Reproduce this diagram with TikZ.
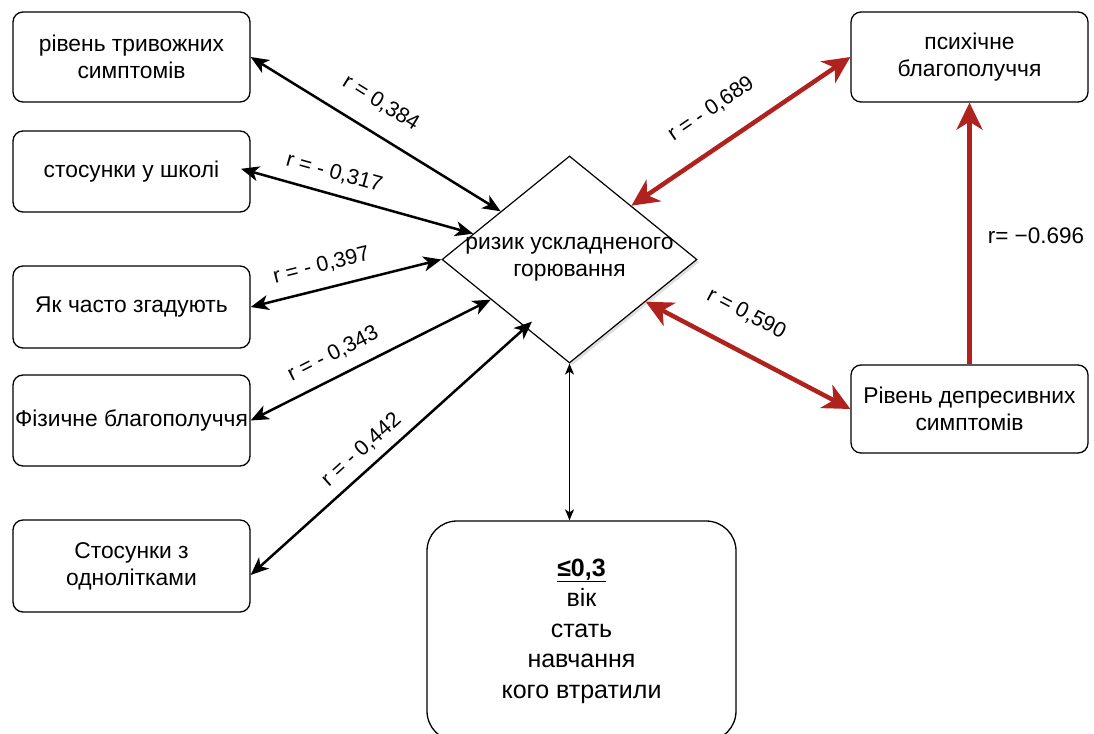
\documentclass[tikz,border=0pt]{standalone}
\usepackage{fontspec}
\setmainfont{Liberation Sans}
\usepackage{tikz}
\usetikzlibrary{
  arrows.meta,%
  % diamond node
  shapes.geometric,%
  shadows
}
\definecolor{darkred}{RGB}{176,34,30}
\tikzset{>={Stealth[length=18pt, width=15pt, inset=5pt]}}
\tikzset{font=\fontsize{22.8}{27}\selectfont}
\tikzset{box/.style={draw, rounded corners=10pt, line width=1.3pt, fill=white,
    minimum width=237pt, align=center, inner sep=0pt},
  riskbox/.style={draw, diamond, line width=1.2pt, fill=white, inner sep=0pt,
    drop shadow={shadow xshift=2.5pt, shadow yshift=-2.5pt, opacity=0.25}},
  link/.style={line width=2.5pt},
  redlink/.style={line width=4.5pt, draw=darkred,
    >={Stealth[length=27pt, width=26pt, inset=8pt]}},
  coef/.style={sloped, anchor=south, inner xsep=0pt, font=\fontsize{21.5}{25}\selectfont}
}

\begin{document}
\begin{tikzpicture}[x=1pt, y=-1pt]
  \useasboundingbox (0,0) rectangle (1094,733);
  % left column
  \node[box, minimum height=90pt] (anxiety) at (131.5,57) {рівень тривожних\\симптомів};
  \node[box, minimum height=81pt] (school) at (131.5,171.5) {стосунки у школі};
  \node[box, minimum height=82pt] (recall) at (131.5,307) {Як часто згадують};
  \node[box, minimum height=91pt] (physical) at (131.5,420.5) {Фізичне благополуччя};
  \node[box, minimum height=92pt] (peers) at (131.5,566) {Стосунки з\\однолітками};
  % right column
  \node[box, minimum height=90pt] (mental) at (969.5,57) {психічне\\благополуччя};
  \node[box, minimum height=88pt] (depress) at (969.5,409) {Рівень депресивних\\симптомів};
  % centre
  \node[riskbox, minimum width=255pt, minimum height=207pt] (risk) at (569.5,259.5) {};
  \node[align=center] (risktext) at (risk.center) {ризик ускладненого\\горювання};
  \node[box, rounded corners=30pt, minimum width=309pt, minimum height=220pt,
    font=\fontsize{25}{30.5}\selectfont] (factors) at (581.5,631)
    {\underline{\textbf{≤0,3}}\\вік\\стать\\навчання\\кого втратили};

  \draw[link, <->] (anxiety.east) -- (risk.145.7)
    node[coef, pos=0.46, inner ysep=19pt] {r = 0,384};
  \draw[link, <->, shorten <=-10pt] (school.east) -- (risk.165.4)
    node[coef, pos=0.35, inner ysep=11pt] {r = - 0,317};
  \draw[link, <->] (recall.east) -- (risk.west)
    node[coef, pos=0.40, inner ysep=13pt] {r = - 0,397};
  \draw[link, <->] (physical.east) -- (risk.207.5)
    node[coef, pos=0.385, inner ysep=12pt] {r = - 0,343};
  \draw[link, <->, shorten >=-9pt] ([yshift=-9pt]peers.east) -- (risk.237.5)
    node[coef, pos=0.45, inner ysep=9pt] {r = - 0,442};
  \draw[<->, line width=1.4pt, >={Stealth[length=11pt, width=9pt, inset=3pt]}]
    (risk.south) -- (risk.south |- factors.north);

  \draw[redlink, <->] (risk.41.1) -- (mental.west)
    node[coef, pos=0.454, inner ysep=24pt] {r = - 0,689};
  \draw[redlink, <->] (risk.331.3) -- (depress.west)
    node[coef, pos=0.41, inner ysep=25pt] {r = 0,590};
  \draw[redlink, ->] (depress.north) -- (mental.south)
    node[pos=0.49, right=16pt, inner sep=0pt, font=\fontsize{22.5}{27}\selectfont] {r= −0.696};
\end{tikzpicture}
\end{document}
